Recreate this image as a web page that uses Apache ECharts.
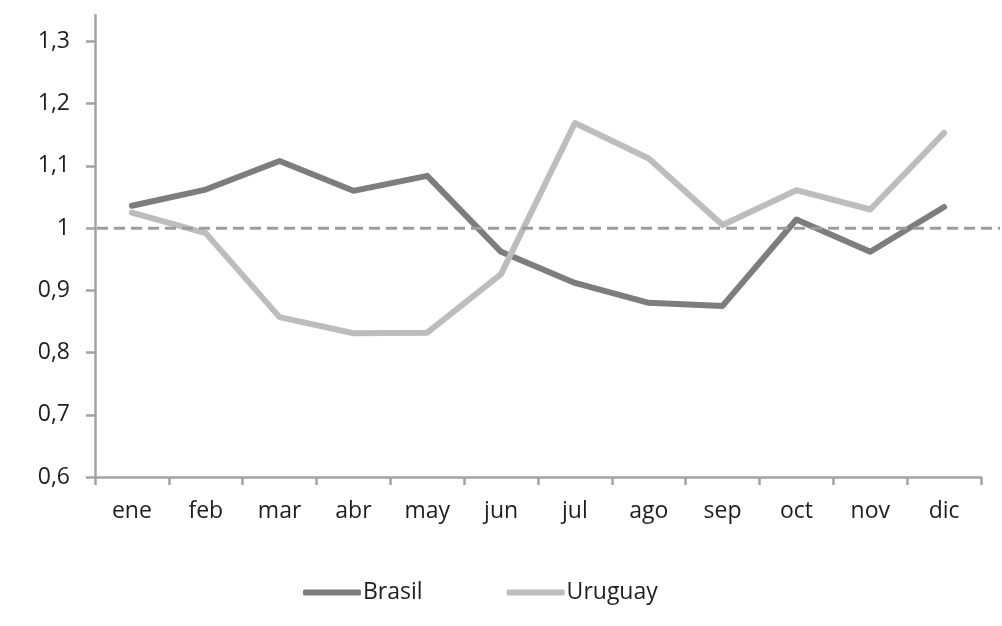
<!DOCTYPE html>
<html>
<head>
<meta charset="utf-8">
<script src="https://cdn.jsdelivr.net/npm/echarts@6/dist/echarts.min.js"></script>
<style>
html,body{margin:0;padding:0;background:#fff;}
#chart{width:1002px;height:626px;}
</style>
</head>
<body>
<div id="chart"></div>
<script>
const categories = ['ene','feb','mar','abr','may','jun','jul','ago','sep','oct','nov','dic'];
const brasil = [1.036,1.062,1.108,1.060,1.084,0.962,0.912,0.880,0.875,1.014,0.962,1.034];
const uruguay = [1.025,0.992,0.857,0.831,0.832,0.926,1.169,1.112,1.005,1.061,1.030,1.153];
const yTicks = [0.6,0.7,0.8,0.9,1.0,1.1,1.2,1.3];
const refValue = 1;

const FONT = 'Open Sans';
const TXT = '#1e1e1e';
const AX = '#a3a3a5';
const yMin = 0.6, yMax = 1.3426;

const chart = echarts.init(document.getElementById('chart'), null, {renderer:'canvas'});
chart.setOption({
  animation: false,
  backgroundColor: '#fff',
  textStyle: {fontFamily: FONT},
  grid: [
    {left: 95, right: 21, top: 15, bottom: 149},
    {left: 97, right: 2, top: 15, bottom: 149}
  ],
  legend: {
    data: ['Brasil','Uruguay'],
    left: 298, top: 576,
    itemWidth: 58, itemHeight: 6, itemGap: 84,
    icon: 'roundRect',
    textStyle: {fontFamily: FONT, fontSize: 23, color: TXT, padding: [0,0,0,-3]}
  },
  xAxis: [
    {
      type: 'category', gridIndex: 0, data: categories, boundaryGap: true,
      axisLine: {lineStyle: {color: AX, width: 2.5}},
      axisTick: {show: true, length: 8, lineStyle: {color: AX, width: 2.5}},
      axisLabel: {fontFamily: FONT, fontSize: 23, color: TXT, margin: 23},
      splitLine: {show: false}
    },
    {type: 'value', gridIndex: 1, min: 0, max: 1, show: false}
  ],
  yAxis: [
    {
      type: 'value', gridIndex: 0, min: yMin, max: yMax, interval: 0.1,
      axisLine: {show: true, lineStyle: {color: AX, width: 2.5}},
      axisTick: {show: true, length: 9, lineStyle: {color: AX, width: 2.5}, customValues: yTicks},
      axisLabel: {fontFamily: FONT, fontSize: 23, color: TXT, margin: 25, customValues: yTicks,
        formatter: v => String(+(+v).toFixed(1)).replace('.', ',')},
      splitLine: {show: false}
    },
    {type: 'value', gridIndex: 1, min: yMin, max: yMax, show: false}
  ],
  series: [
    {
      name: 'Brasil', type: 'line', xAxisIndex: 0, yAxisIndex: 0, data: brasil,
      symbol: 'none', smooth: false,
      lineStyle: {color: '#7d7d80', width: 6, cap: 'round', join: 'round'},
      itemStyle: {color: '#7d7d80'}, z: 2
    },
    {
      name: 'Uruguay', type: 'line', xAxisIndex: 0, yAxisIndex: 0, data: uruguay,
      symbol: 'none', smooth: false,
      lineStyle: {color: '#bdbdc0', width: 6, cap: 'round', join: 'round'},
      itemStyle: {color: '#bdbdc0'}, z: 3
    },
    {
      name: 'ref', type: 'line', xAxisIndex: 1, yAxisIndex: 1,
      data: [[0, refValue], [1, refValue]], symbol: 'none',
      lineStyle: {color: '#9d9da0', width: 3, type: [11, 6]}, z: 5, silent: true
    }
  ]
});
</script>
</body>
</html>
